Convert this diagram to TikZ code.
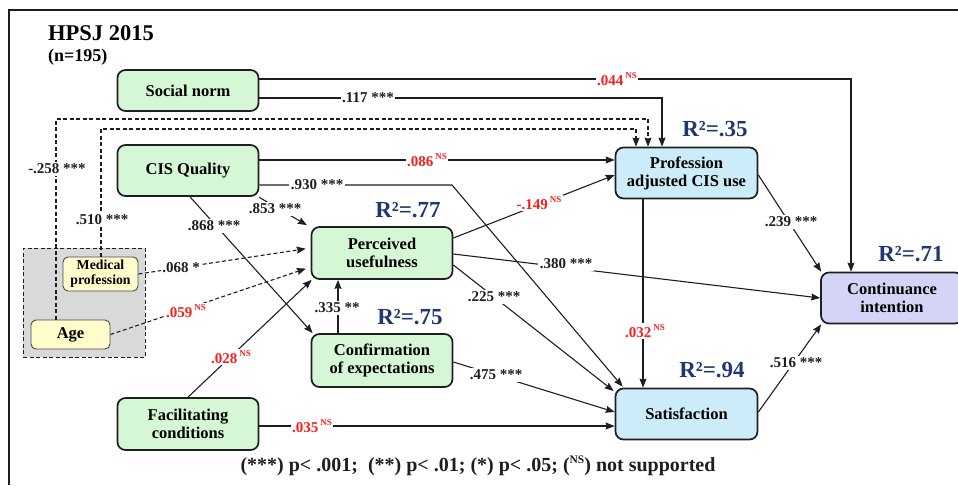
\documentclass[tikz,border=0pt]{standalone}
\usepackage{fontspec}
\setmainfont{Liberation Serif}
\usetikzlibrary{arrows.meta,calc}
\definecolor{gfill}{RGB}{214,247,214}
\definecolor{bfill}{RGB}{204,236,250}
\definecolor{pfill}{RGB}{212,212,246}
\definecolor{yfill}{RGB}{255,252,204}
\definecolor{grayfill}{RGB}{217,217,217}
\definecolor{nsred}{RGB}{250,30,30}
\definecolor{navy}{RGB}{31,56,112}
\definecolor{ink}{RGB}{30,30,30}
\newcommand\nfont{\fontsize{16.5}{18}\selectfont\bfseries}
\newcommand\sfont{\fontsize{13.8}{15}\selectfont\bfseries}
\newcommand\lfont{\fontsize{15}{16}\selectfont\bfseries}
\newcommand\rfont{\fontsize{23}{24}\selectfont\bfseries}
\newcommand\nsup{\hspace{2pt}\raisebox{0.42em}{\fontsize{9}{9}\selectfont NS}}
\begin{document}
\begin{tikzpicture}[x=1pt,y=-1pt,
  box/.style={draw=ink, line width=1.7pt, rounded corners=8pt, align=center, inner sep=0pt, font=\nfont},
  gbox/.style={box, fill=gfill, minimum width=141pt, minimum height=51pt},
  bbox/.style={box, fill=bfill, minimum width=142pt, minimum height=51pt},
  smallbox/.style={draw=ink!80, line width=0.9pt, rounded corners=5pt, fill=yfill, align=center, inner sep=0pt},
  arr/.style={draw=ink, line width=1.1pt, -{Stealth[length=9pt,width=7pt,inset=1pt]}},
  darr/.style={arr, dash pattern=on 4pt off 2.5pt},
  lab/.style={fill=white, inner sep=1.5pt, font=\lfont, text=ink},
  rlab/.style={lab, text=nsred},
  rsq/.style={font=\rfont, text=navy}
]
\useasboundingbox (0,0) rectangle (958,485);
% frame
\draw[ink, line width=1.2pt] (9,485) -- (9,10) -- (958,10);
% title
\node[anchor=base west, inner sep=0pt, font=\fontsize{22.5}{24}\selectfont\bfseries] (title) at (48,40) {HPSJ 2015};
\node[anchor=base west, inner sep=0pt, font=\fontsize{18}{20}\selectfont\bfseries] (nn) at (48,61) {(n=195)};
% group box
\node[draw=ink, line width=1pt, dash pattern=on 4pt off 2.5pt, fill=grayfill, minimum width=122pt, minimum height=109pt, inner sep=0pt] (grp) at (84,302.5) {};
% nodes
\node[gbox, minimum height=41pt] (sn) at (188,90.5) {Social norm};
\node[gbox] (cis) at (188,170.5) {CIS Quality};
\node[gbox, minimum height=52pt] (pu) at (382,253) {Perceived\\usefulness};
\node[gbox, minimum height=53pt] (conf) at (382,360.5) {Confirmation\\of expectations};
\node[gbox, minimum height=52pt] (fac) at (188,424) {Facilitating\\conditions};
\node[bbox] (pro) at (686.5,173) {Profession\\adjusted CIS use};
\node[bbox] (sat) at (686.5,414) {Satisfaction};
\node[box, fill=pfill, minimum width=142pt, minimum height=51pt] (ci) at (892,298) {Continuance\\intention};
\node[smallbox, minimum width=75pt, minimum height=34pt, font=\sfont] (med) at (100.5,274) {Medical\\profession};
\node[smallbox, minimum width=79pt, minimum height=29pt, font=\nfont] (age) at (70.5,334.5) {Age};
% R2 labels
\node[rsq] (r35) at (715,129) {R²=.35};
\node[rsq] (r77) at (408,210) {R²=.77};
\node[rsq] (r75) at (410,317) {R²=.75};
\node[rsq] (r94) at (712,370) {R²=.94};
\node[rsq] (r71) at (911,254) {R²=.71};
% coordinates
\coordinate (ageUp) at (56,119);
\coordinate (medUp) at (101,129);
\coordinate (cisBend) at (452,185);
% edges
\draw[arr] ([yshift=11.5pt]sn.east) -| ([xshift=-41pt]ci.north);
\draw[arr] ([yshift=-7.5pt]sn.east) -| ([xshift=-24.5pt]pro.north);
\draw[darr] ([xshift=-14.5pt]age.north) -- (ageUp) -| ([xshift=-38.5pt]pro.north);
\draw[darr] ([xshift=0.5pt]med.north) -- (medUp) -| ([xshift=-50.5pt]pro.north);
\draw[arr] ([yshift=10.5pt]cis.east) -- ([yshift=13pt]pro.west);
\draw[arr] ([yshift=-14.5pt]cis.east) -- (cisBend) -- ([xshift=8pt,yshift=1pt]sat.north west);
\draw[arr, shorten <=1pt, shorten >=2pt] ([xshift=-1pt]cis.south east) -- ([xshift=-2pt]pu.north west);
\draw[arr] ([xshift=2pt]cis.south) -- ([xshift=2pt]conf.north west);
\draw[darr, shorten >=5pt] (med.east) -- ([yshift=5pt]pu.west);
\draw[darr, shorten >=5pt] (age.east) -- ([yshift=-14pt]pu.west);
\draw[arr] (fac.north) -- ([xshift=1pt]pu.south west);
\draw[arr] ([xshift=-44pt]conf.north) -- ([xshift=-44pt]pu.south);
\draw[arr] ([yshift=15pt]pu.east) -- ([yshift=-2pt]pro.west);
\draw[arr] ([yshift=-1pt]pu.east) -- (ci.west);
\draw[arr] ([yshift=-12pt]pu.east) -- ([xshift=-1pt,yshift=23pt]sat.west);
\draw[arr] ([xshift=-43.5pt]pro.south) -- ([xshift=-43.5pt]sat.north);
\draw[arr] ([yshift=-2pt]pro.east) -- ([xshift=1pt]ci.north west);
\draw[arr] ([yshift=2pt]sat.east) -- ([xshift=1pt]ci.south west);
\draw[arr] ([yshift=-1.5pt]conf.east) -- ([yshift=2pt]sat.west);
\draw[arr] ([yshift=-2pt]fac.east) -- ([yshift=-12pt]sat.west);
% edge labels
\node[rlab] (l1) at (617,79) {.044\nsup};
\node[lab] (l2) at (368,98) {.117 ***};
\node[lab] (l3) at (57,169) {-.258 ***};
\node[lab] (l4) at (102,220) {.510 ***};
\node[rlab] (l5) at (427,160) {.086\nsup};
\node[lab] (l6) at (317,185) {.930 ***};
\node[lab] (l7) at (275,209) {.853 ***};
\node[lab] (l8) at (214,226) {.868 ***};
\node[lab] (l9) at (181,268) {.068 *};
\node[rlab] (l10) at (186,311) {.059\nsup};
\node[rlab] (l11) at (231,357) {.028\nsup};
\node[lab] (l12) at (337,308) {.335 **};
\node[rlab] (l13) at (539,203) {-.149\nsup};
\node[lab] (l14) at (566,264) {.380 ***};
\node[lab] (l15) at (494,297) {.225 ***};
\node[rlab] (l16) at (645,331) {.032\nsup};
\node[lab] (l17) at (791,222) {.239 ***};
\node[lab] (l18) at (796,363) {.516 ***};
\node[lab] (l19) at (496,375) {.475 ***};
\node[rlab] (l20) at (312,426) {.035\nsup};
% footnote
\node[font=\fontsize{20}{21}\selectfont\bfseries, text=ink, inner sep=0pt] (foot) at (478,466) {(***) p< .001;\ \ (**) p< .01; (*) p< .05; (\raisebox{0.42em}{\fontsize{11.5}{11.5}\selectfont NS}) not supported};
\end{tikzpicture}
\end{document}
